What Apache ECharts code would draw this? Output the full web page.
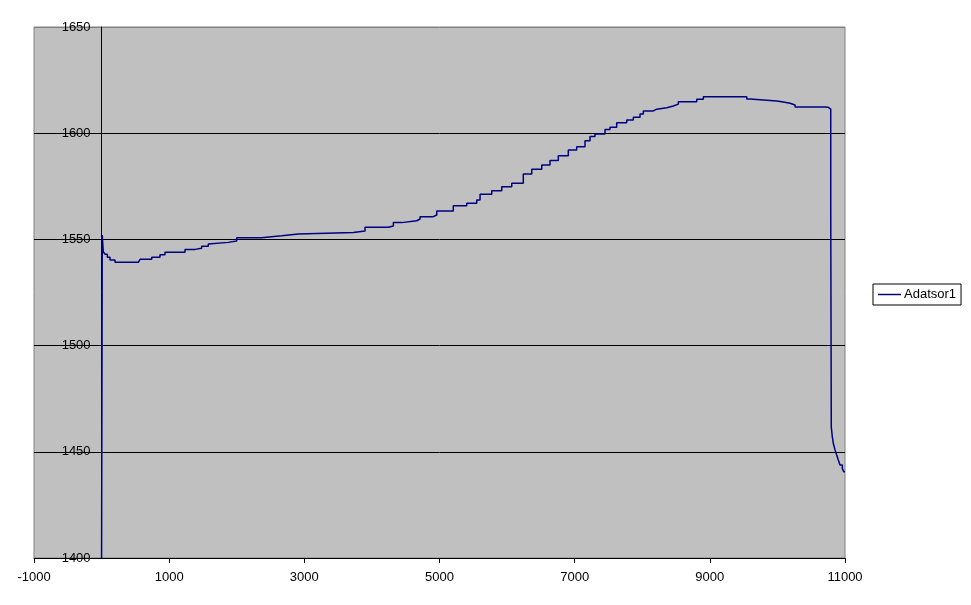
<!DOCTYPE html>
<html lang="hu">
<head>
    <meta charset="UTF-8">
    <title>Adatsor1</title>
    <script type="text/javascript" src="https://cdn.jsdelivr.net/npm/echarts@6/dist/echarts.min.js"></script>
    <style>
        body{margin:0;background:#fff}
        #main{width:971px;height:605px}
    </style>
</head>
<body>
<div id="main"></div>
<script type="text/javascript">
    // idő (x) és mért érték (y)
    var timeVals = [0, 10, 25, 51, 85, 125, 199, 543, 569, 742, 864, 938, 1186, 1234, 1382, 1481, 1579, 1604, 1875, 1999,
        2369, 2665, 2911, 3725, 3898, 4243, 4317, 4441, 4663, 4712, 4909, 4959, 5204, 5403, 5551, 5600, 5773, 5921, 6069,
        6240, 6365, 6513, 6635, 6758, 6906, 7030, 7153, 7227, 7301, 7449, 7523, 7622, 7770, 7868, 7967, 8016, 8164, 8214,
        8362, 8460, 8534, 8806, 8904, 9496, 9546, 9596, 9990, 10064, 10187, 10261, 10705, 10753, 10789, 10789, 10797,
        10812, 10827, 10852, 10877, 10901, 10926, 10960, 10981, 11000];
    var seriesVals = [1400, 1552.1, 1544.2, 1543.0, 1541.6, 1540.3, 1539.2, 1539.2, 1540.6, 1541.6, 1542.8, 1543.9, 1543.9,
        1545.3, 1545.8, 1546.8, 1547.8, 1548.6, 1549.2, 1550.8, 1551.7, 1552.5, 1553.2, 1554.0, 1555.7, 1556.3, 1557.9,
        1558.8, 1559.6, 1560.7, 1561.5, 1563.4, 1565.9, 1567.0, 1568.6, 1571.2, 1572.9, 1574.8, 1576.4, 1580.8, 1583.0,
        1585.0, 1587.1, 1589.4, 1592.1, 1593.6, 1596.5, 1598.4, 1599.6, 1601.8, 1602.8, 1604.9, 1606.2, 1607.5, 1609.0,
        1610.5, 1611.3, 1612.0, 1612.8, 1613.7, 1614.8, 1616.0, 1617.2, 1617.2, 1616.1, 1615.2, 1614.8, 1614.1, 1613.3,
        1612.3, 1612.2, 1611.3, 1611.3, 1564.2, 1461.8, 1457.1, 1454.0, 1450.9, 1448.5, 1446.1, 1443.8, 1442.2, 1440.6, 1440.5];
    var xTickVals = [-1000, 1000, 3000, 5000, 7000, 9000, 11000];
    var seriesName = 'Adatsor1';

    var points = [];
    for (var i = 0; i < timeVals.length; i++) {
        points.push([timeVals[i], seriesVals[i]]);
    }

    // y tengely az x=0 helyen (Excel-szerűen), a rács bal szélétől mért távolság
    var plotLeft = 34, plotRight = 845;
    var yAxisShift = (0 - (-1000)) / (11000 - (-1000)) * (plotRight - plotLeft);

    var myChart = echarts.init(document.getElementById('main'));
    myChart.setOption({
        animation: false,
        textStyle: {fontFamily: 'Liberation Sans, Arial, sans-serif'},
        grid: {
            left: plotLeft, top: 27, right: 971 - plotRight, bottom: 47,
            outerBoundsMode: 'none', containLabel: false,
            show: true, backgroundColor: '#C0C0C0',
            borderColor: '#808080', borderWidth: 1
        },
        legend: {
            left: 873, top: 284,
            data: [{name: seriesName, icon: 'path://M0,0 H24 V1 H0 Z'}],
            symbolKeepAspect: false,
            backgroundColor: '#fff',
            borderColor: '#000', borderWidth: 1, borderRadius: 0,
            padding: [4, 5, 4, 5],
            itemWidth: 23, itemHeight: 1.5, itemGap: 4,
            textStyle: {color: '#000', fontSize: 13, padding: [0, 0, 0, -2]}
        },
        xAxis: {
            type: 'value', min: -1000, max: 11000,
            axisLine: {onZero: false, lineStyle: {color: '#000', width: 1}},
            axisTick: {show: true, length: 5, customValues: xTickVals, lineStyle: {color: '#000'}},
            axisLabel: {customValues: xTickVals, color: '#000', fontSize: 13, margin: 13,
                formatter: function (v) { return String(v); }},
            splitLine: {show: false}
        },
        yAxis: {
            type: 'value', min: 1400, max: 1650, interval: 50,
            offset: -yAxisShift,
            axisLine: {show: true, onZero: false, lineStyle: {color: '#000', width: 1}},
            axisTick: {show: false},
            axisLabel: {color: '#000', fontSize: 13, margin: 11,
                formatter: function (v) { return String(v); }},
            splitLine: {show: true, lineStyle: {color: ['#000', '#000', '#000', '#000', '#000', '#808080'], width: 1}}
        },
        series: [{
            name: seriesName,
            type: 'line',
            step: 'end',
            symbol: 'none',
            data: points,
            lineStyle: {color: '#000080', width: 1.5},
            itemStyle: {color: '#000080'}
        }]
    });
</script>
</body>
</html>
